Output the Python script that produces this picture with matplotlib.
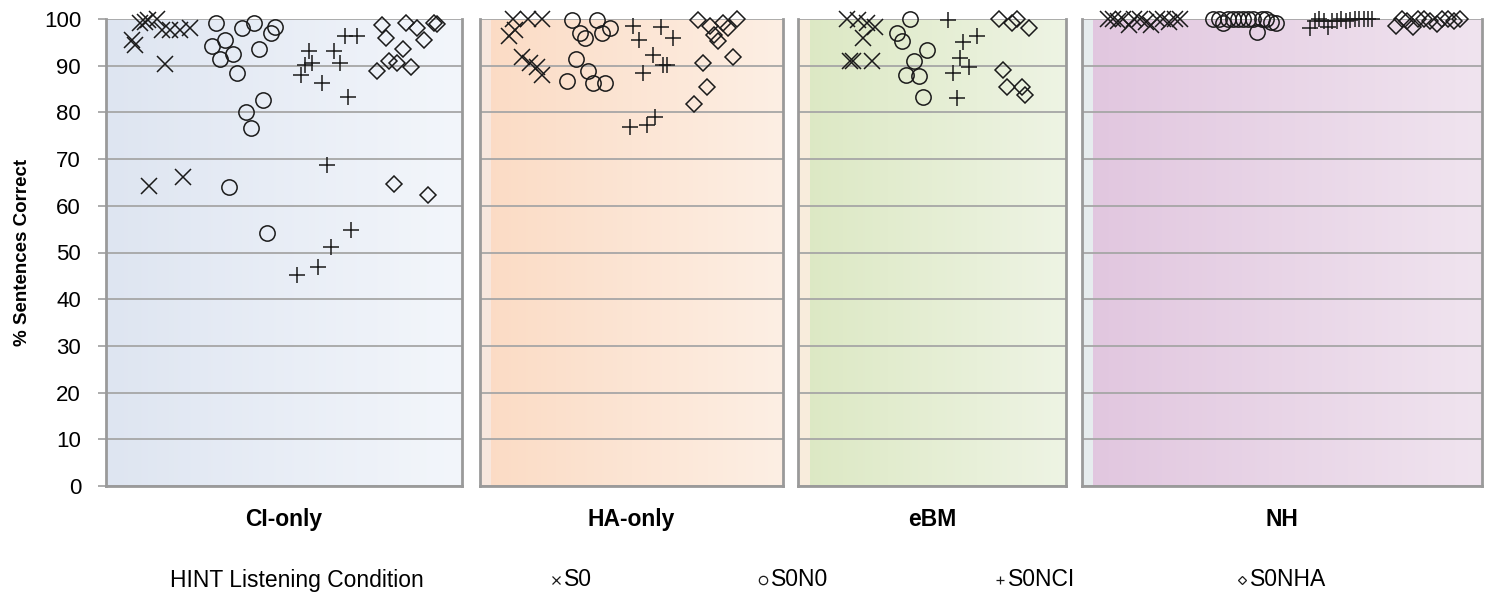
import numpy as np
import matplotlib.pyplot as plt
from matplotlib.colors import LinearSegmentedColormap

plt.rcParams['font.family'] = ['Liberation Sans', 'DejaVu Sans']

groups = ["CI-only", "HA-only", "eBM", "NH"]
conditions = ["S0", "S0N0", "S0NCI", "S0NHA"]

# position inside each group (0-1 across the panel) and % correct, per condition
ci_x = {
    "S0": [0.074, 0.081, 0.096, 0.110, 0.119, 0.142, 0.156, 0.180, 0.208, 0.236, 0.166, 0.122, 0.215],
    "S0N0": [0.309, 0.381, 0.417, 0.475, 0.463, 0.297, 0.334, 0.358, 0.320, 0.429, 0.369, 0.440,
             0.393, 0.406, 0.345, 0.452],
    "S0NCI": [0.671, 0.706, 0.571, 0.641, 0.578, 0.559, 0.657, 0.547, 0.606, 0.681, 0.620, 0.687,
              0.631, 0.596, 0.537],
    "S0NHA": [0.774, 0.843, 0.873, 0.921, 0.931, 0.787, 0.893, 0.833, 0.796, 0.818, 0.857, 0.760,
              0.809, 0.905],
}
ci_y = {
    "S0": [95.6, 94.4, 99.1, 99.3, 99.7, 100, 97.6, 97.6, 97.6, 98.0, 90.4, 64.2, 66.1],
    "S0N0": [99.1, 98.0, 99.1, 98.2, 97.1, 94.3, 95.4, 92.4, 91.4, 93.5, 88.4, 82.7,
             80.0, 76.7, 64.0, 54.1],
    "S0NCI": [96.4, 96.4, 93.1, 93.1, 90.5, 90.2, 90.5, 88.0, 86.4, 83.2, 68.7, 54.8,
              51.2, 46.8, 45.2],
    "S0NHA": [98.7, 99.2, 98.0, 99.2, 98.9, 96.0, 95.4, 93.6, 91.0, 90.6, 89.7, 88.8,
              64.6, 62.3],
}

ha_x = {
    "S0": [0.110, 0.158, 0.204, 0.097, 0.117, 0.138, 0.165, 0.187, 0.204],
    "S0N0": [0.303, 0.385, 0.330, 0.347, 0.402, 0.429, 0.317, 0.357, 0.288, 0.372, 0.413],
    "S0NCI": [0.506, 0.526, 0.597, 0.638, 0.570, 0.616, 0.605, 0.537, 0.495, 0.552, 0.578],
    "S0NHA": [0.720, 0.759, 0.803, 0.847, 0.819, 0.772, 0.786, 0.834, 0.735, 0.750, 0.707],
}
ha_y = {
    "S0": [100, 100, 100, 96.4, 97.6, 91.9, 90.6, 89.7, 88.0],
    "S0N0": [99.7, 99.7, 97.0, 95.9, 97.1, 98.0, 91.4, 88.8, 86.7, 86.4, 86.2],
    "S0NCI": [98.4, 95.4, 98.2, 95.9, 92.3, 90.2, 90.2, 88.5, 76.8, 77.3, 79.1],
    "S0NHA": [99.7, 98.4, 99.2, 100, 98.0, 96.6, 95.2, 91.8, 90.6, 85.4, 81.9],
}

ebm_x = {
    "S0": [0.182, 0.225, 0.259, 0.287, 0.244, 0.194, 0.206, 0.275],
    "S0N0": [0.418, 0.371, 0.387, 0.480, 0.433, 0.403, 0.450, 0.465],
    "S0NCI": [0.561, 0.617, 0.669, 0.604, 0.639, 0.577, 0.592],
    "S0NHA": [0.751, 0.816, 0.797, 0.863, 0.764, 0.781, 0.835, 0.847],
}
ebm_y = {
    "S0": [99.9, 99.8, 99.2, 98.2, 95.9, 90.9, 90.9, 91.1],
    "S0N0": [99.9, 97.1, 95.2, 93.4, 91.0, 88.0, 87.8, 83.4],
    "S0NCI": [99.8, 95.0, 96.4, 91.6, 89.8, 88.5, 83.1],
    "S0NHA": [99.9, 100, 99.1, 98.0, 89.1, 85.4, 85.4, 83.7],
}

nh_x = {
    "S0": [0.065, 0.078, 0.090, 0.103, 0.118, 0.130, 0.145, 0.160, 0.173, 0.188, 0.203, 0.218,
           0.233, 0.245],
    "S0N0": [0.328, 0.343, 0.353, 0.365, 0.378, 0.390, 0.403, 0.415, 0.428, 0.438, 0.450, 0.460,
             0.473, 0.485],
    "S0NCI": [0.570, 0.583, 0.593, 0.605, 0.615, 0.625, 0.638, 0.648, 0.660, 0.670, 0.683, 0.693,
              0.705, 0.715, 0.725],
    "S0NHA": [0.785, 0.800, 0.813, 0.828, 0.840, 0.855, 0.870, 0.888, 0.900, 0.915, 0.930, 0.945],
}
nh_y = {
    "S0": [100, 100, 99.5, 100, 98.7, 100, 100, 99.3, 98.7, 100, 100, 99.4, 100, 100],
    "S0N0": [100, 100, 99.1, 100, 100, 100, 100, 100, 100, 97.2, 100, 100, 99.4, 99.1],
    "S0NCI": [98.0, 99.6, 100, 99.6, 98.2, 99.6, 99.6, 100, 99.6, 99.8, 100, 100, 100, 100, 100],
    "S0NHA": [98.4, 100, 99.6, 98.2, 100, 100, 99.6, 98.9, 100, 100, 99.6, 100],
}

xs = [ci_x, ha_x, ebm_x, nh_x]
ys = [ci_y, ha_y, ebm_y, nh_y]

# panel backgrounds: left and right end of the horizontal gradient, plus the thin strip at the left edge
bg_left = ["#dee5f1", "#fbdbc4", "#dce8c3", "#e1c6df"]
bg_right = ["#f3f6fb", "#fdefe4", "#eef4e4", "#f0e4ef"]
strip_col = [None, "#f7e7de", "#f8ecdc", "#e6ecee"]
strip_w = [0, 0.035, 0.045, 0.028]

markers = {"S0": "x", "S0N0": "o", "S0NCI": "+", "S0NHA": "D"}
msizes = {"S0": 11, "S0N0": 11, "S0NCI": 11, "S0NHA": 7.8}

# panel rectangles in figure pixels (left, width)
panel_px = [(106, 356), (480, 303), (798, 268), (1082, 400)]
W, H = 1495, 598
bottom, top = 486, 19

fig = plt.figure(figsize=(W / 100, H / 100), dpi=100)
grid_c = "#a6a6a6"

for i, g in enumerate(groups):
    left, width = panel_px[i]
    ax = fig.add_axes([left / W, 1 - bottom / H, width / W, (bottom - top) / H])
    ax.set_xlim(0, 1)
    ax.set_ylim(0, 100)

    cmap = LinearSegmentedColormap.from_list("bg%d" % i, [bg_left[i], bg_right[i]])
    ax.imshow(np.linspace(0, 1, 256).reshape(1, -1), cmap=cmap, aspect="auto",
              extent=[0, 1, 0, 100], zorder=0)
    if strip_col[i]:
        ax.axvspan(0, strip_w[i], color=strip_col[i], lw=0, zorder=0.5)

    ax.set_yticks(np.arange(0, 101, 10))
    ax.grid(axis="y", color=grid_c, lw=1.3, zorder=1)
    ax.set_xticks([])
    for s in ["left", "right", "bottom"]:
        ax.spines[s].set_color("#9a9a9a")
        ax.spines[s].set_linewidth(2)
    ax.spines["top"].set_visible(False)

    if i == 0:
        ax.tick_params(axis="y", length=6, width=1.3, color=grid_c, pad=12, labelsize=16)
        ax.set_ylabel("% Sentences Correct", fontsize=13.5, fontweight="bold", labelpad=9)
    else:
        ax.tick_params(axis="y", length=0, labelleft=False)

    ax.set_xlabel(g, fontsize=16.5, fontweight="bold", labelpad=16)

    for c in conditions:
        face = "none" if c in ("S0N0", "S0NHA") else "black"
        ax.plot(xs[i][c], ys[i][c], ls="none", marker=markers[c], ms=msizes[c],
                mfc=face, mec="#1a1a1a", mew=1.1, clip_on=False, zorder=3)

# legend row
leg_y = 1 - 580 / H
fig.text(170 / W, leg_y, "HINT Listening Condition", fontsize=16.5, va="center", ha="left")
leg_x = [551, 758, 995, 1237]
for c, lx in zip(conditions, leg_x):
    face = "none" if c in ("S0N0", "S0NHA") else "black"
    fig.lines.append(plt.Line2D([(lx + 5) / W], [leg_y], transform=fig.transFigure, ls="none",
                                marker=markers[c], ms=6 if c != "S0NHA" else 4.5,
                                mfc=face, mec="#1a1a1a", mew=0.9))
    fig.text((lx + 13) / W, leg_y, c, fontsize=16.5, va="center", ha="left")

fig.savefig("out.png", dpi=100)
